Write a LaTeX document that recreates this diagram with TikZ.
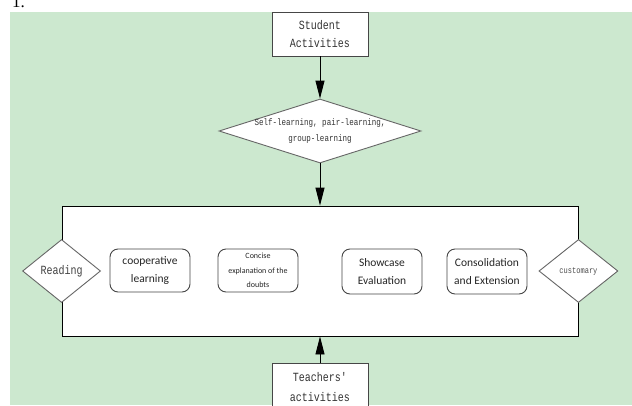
\documentclass[tikz,border=0pt]{standalone}
\usepackage{fontspec}
\setmainfont{Carlito}
\newfontfamily\simfont[FakeStretch=0.8]{Liberation Mono}
\newfontfamily\numfont{Liberation Serif}
\usetikzlibrary{shapes.geometric,arrows.meta,positioning}
\definecolor{eyegreen}{RGB}{204,232,207}
\definecolor{boxline}{RGB}{70,70,70}
\tikzset{
  actbox/.style={draw=boxline, fill=white, line width=0.9pt, minimum width=96pt,
    inner sep=0pt, align=center, text=black!80},
  choice/.style={diamond, draw=black!60, fill=white, line width=0.9pt, inner sep=0pt},
  stage/.style={rounded corners=8pt, draw=boxline, fill=white, line width=0.9pt,
    minimum width=80pt, inner sep=0pt, align=center, text=black!85},
  arr/.style={-{Triangle[length=18pt,width=9pt]}, line width=0.9pt},
}
\begin{document}
\begin{tikzpicture}[x=1pt, y=-1pt]
    \useasboundingbox (0,0) rectangle (632,405);
    % item number, cut at the top
    \node[font=\numfont\fontsize{17}{17}\selectfont, anchor=base west, inner sep=0pt] (num) at (12,7) {1.};
    \begin{scope}
    \clip (10,12.6) rectangle (632,405);
    \fill[eyegreen] (10,12) rectangle (632,405);
    % main frame
    \node[draw, fill=white, line width=0.9pt, minimum width=516pt, minimum height=130pt, inner sep=0pt] (frame) at (320,271) {};
    % stages
    \node[stage, minimum height=43pt, font=\fontsize{11.5}{18}\selectfont] (coop) at (150,270.5) {cooperative\\learning};
    \node[stage, minimum height=43pt, font=\fontsize{8}{14.5}\selectfont] (concise) at (258,270.5) {Concise\\explanation of the\\doubts};
    \node[stage, minimum height=45pt, font=\fontsize{11.5}{18}\selectfont] (show) at (382,271.5) {Showcase\\Evaluation};
    \node[stage, minimum height=45pt, font=\fontsize{11.5}{18}\selectfont] (consol) at (487,271.5) {Consolidation\\and Extension};
    % diamonds
    \node[choice, minimum width=78pt, minimum height=63pt,
        label={[font=\simfont\fontsize{12.5}{14}\selectfont, text=black!75]center:Reading}] (read) at (frame.west) {};
    \node[choice, minimum width=79pt, minimum height=63pt,
        label={[font=\simfont\fontsize{8.8}{10}\selectfont, text=black!70]center:customary}] (custom) at (frame.east) {};
    \node[choice, minimum width=202pt, minimum height=64pt,
        label={[font=\simfont\fontsize{9.4}{16}\selectfont, text=black!80, align=center]center:{Self-learning, pair-learning,\\group-learning}}] (self) at (320,131) {};
    % activity boxes
    \node[actbox, minimum height=44pt, font=\simfont\fontsize{12.5}{18}\selectfont] (student) at (320,34) {Student\\Activities};
    \node[actbox, minimum height=48pt, font=\simfont\fontsize{12.5}{20}\selectfont] (teacher) at (320,387) {Teachers'\\activities};
    % arrows
    \draw[arr] (student) -- (self);
    \draw[arr] (self) -- (frame.north);
    \draw[arr] (teacher) -- (frame.south);
    \end{scope}
\end{tikzpicture}
\end{document}
